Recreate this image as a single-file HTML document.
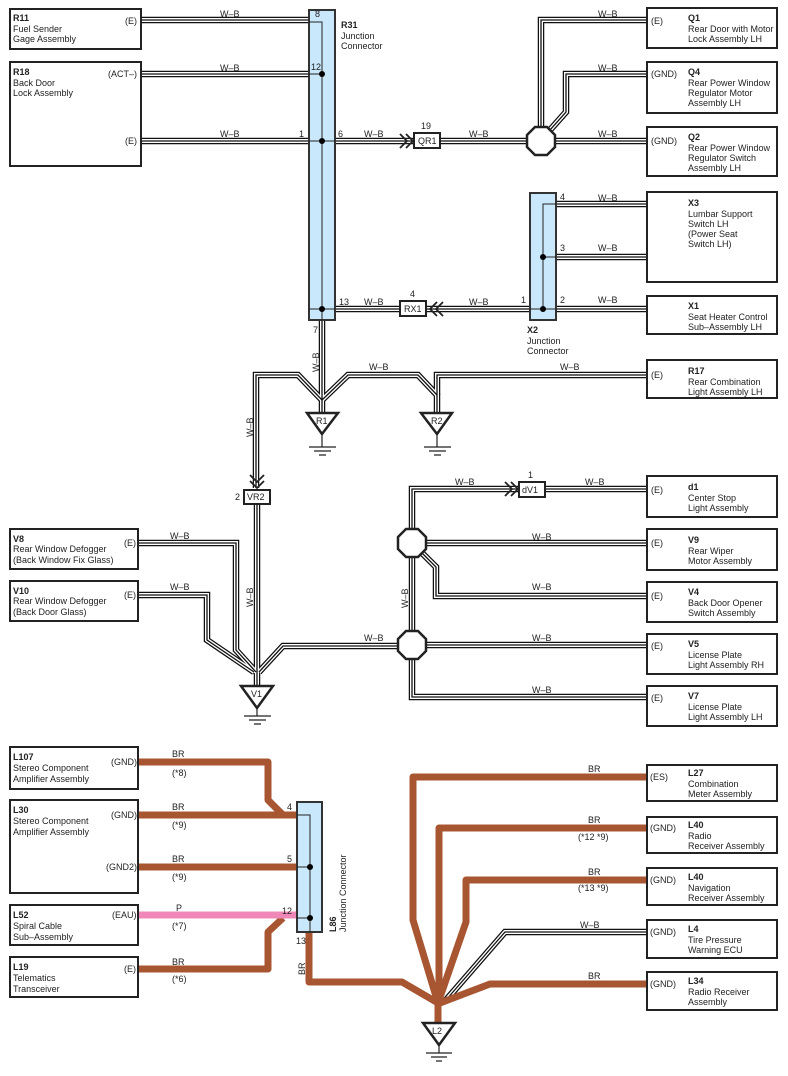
<!DOCTYPE html>
<html><head><meta charset="utf-8"><style>
html,body{margin:0;padding:0;background:#fff}
svg{display:block}
text{font-family:"Liberation Sans",sans-serif;font-size:9px;fill:#222}
.b{font-weight:bold}
.box{fill:#fff;stroke:#222;stroke-width:2}
.jc{fill:#c9e8fb;stroke:#333;stroke-width:2}
.in{fill:none;stroke:#222;stroke-width:1}
.oct{fill:#fff;stroke:#222;stroke-width:2.5}
.tri{fill:#fff;stroke:#222;stroke-width:2.5}
.gnd{stroke:#222;stroke-width:1.2}
.cb{fill:#fff;stroke:#222;stroke-width:2}
.arr{fill:none;stroke:#222;stroke-width:1.8}
</style></head><body>
<svg width="788" height="1076" viewBox="0 0 788 1076" xmlns="http://www.w3.org/2000/svg">
<defs>
<g id="wb" fill="none" stroke-linejoin="miter">
<path d="M138 20H309"/>
<path d="M138 74H309"/>
<path d="M138 141H309"/>
<path d="M335 141H414"/>
<path d="M440 141H647"/>
<path d="M541 127V20H647"/>
<path d="M550 130L566 112V74H647"/>
<path d="M556 204H647"/>
<path d="M556 257H647"/>
<path d="M556 309H647"/>
<path d="M335 309H400"/>
<path d="M426 309H530"/>
<path d="M322 320V413"/>
<path d="M322 400L298 375H256V488"/>
<path d="M322 400L348 375H418L437 395V413"/>
<path d="M437 395V375H647"/>
<path d="M257 503V686"/>
<path d="M138 543H236V650L256 672"/>
<path d="M138 595H207V640L254 672"/>
<path d="M259 672L283 646H398"/>
<path d="M412 557V631"/>
<path d="M412 529V489H520"/>
<path d="M544 489H647"/>
<path d="M426 543H647"/>
<path d="M422 553L436 567V596H647"/>
<path d="M426 645H647"/>
<path d="M412 659V697H647"/>
<path d="M647 932H505L446 1000"/>
</g>
</defs>
<use href="#wb" stroke="#111" stroke-width="6.5"/>
<use href="#wb" stroke="#fff" stroke-width="4"/>
<use href="#wb" stroke="#111" stroke-width="1.3"/>

<!-- brown wires -->
<g fill="none" stroke="#a85632" stroke-width="7" stroke-linejoin="round">
<path d="M138 762H268V800L283 815H297"/>
<path d="M138 815H297"/>
<path d="M138 867H297"/>
<path d="M138 969H268V932L283 918"/>
<path d="M309 932V982H402L438 1003V1023"/>
<path d="M647 777H413V920L438 1003"/>
<path d="M647 828H439V1003"/>
<path d="M647 880H466V922L438 1003"/>
<path d="M647 984H490L440 1003"/>
</g>
<path d="M138 915H297" stroke="#ef88b8" stroke-width="7"/>

<!-- junction connectors -->
<rect class="jc" x="309" y="10" width="26" height="310"/>
<path class="in" d="M309 22H322V320M309 74H322M309 141H335M309 309H335"/>
<circle cx="322" cy="74" r="3"/><circle cx="322" cy="141" r="3"/><circle cx="322" cy="309" r="3"/>
<text x="315" y="17">8</text><text x="311" y="70">12</text><text x="299" y="137">1</text><text x="338" y="137">6</text>
<text x="339" y="305">13</text><text x="313" y="333">7</text>
<text class="b" x="341" y="28">R31</text><text x="341" y="39">Junction</text><text x="341" y="49">Connector</text>

<rect class="jc" x="530" y="193" width="26" height="127"/>
<path class="in" d="M556 204H543V309M543 257H556M530 309H556"/>
<circle cx="543" cy="257" r="3"/><circle cx="543" cy="309" r="3"/>
<text x="560" y="200">4</text><text x="560" y="251">3</text><text x="560" y="303">2</text><text x="521" y="303">1</text>
<text class="b" x="527" y="333">X2</text><text x="527" y="344">Junction</text><text x="527" y="354">Connector</text>

<rect class="jc" x="297" y="802" width="25" height="130"/>
<path class="in" d="M297 815H310V932M297 867H310M297 918H310"/>
<circle cx="310" cy="867" r="3"/><circle cx="310" cy="918" r="3"/>
<text x="287" y="810">4</text><text x="287" y="862">5</text><text x="282" y="914">12</text><text x="296" y="944">13</text>
<text class="b" transform="translate(336,932) rotate(-90)">L86</text>
<text transform="translate(346,932) rotate(-90)">Junction Connector</text>

<!-- connector boxes with arrows -->
<rect class="cb" x="414" y="133" width="26" height="15"/><text x="418" y="144">QR1</text><text x="421" y="129">19</text>
<path class="arr" d="M400 134l7 7-7 7M406 134l7 7-7 7"/>
<rect class="cb" x="400" y="301" width="26" height="15"/><text x="404" y="312">RX1</text><text x="410" y="297">4</text>
<path class="arr" d="M437 302l-7 7 7 7M443 302l-7 7 7 7"/>
<rect class="cb" x="244" y="490" width="26" height="14"/><text x="247" y="500">VR2</text><text x="235" y="500">2</text>
<path class="arr" d="M250 475l7 7 7-7M250 481l7 7 7-7"/>
<rect class="cb" x="519" y="482" width="26" height="15"/><text x="522" y="493">dV1</text><text x="528" y="478">1</text>
<path class="arr" d="M505 482l7 7-7 7M511 482l7 7-7 7"/>

<!-- octagons -->
<polygon class="oct" points="535,127 547,127 555,135 555,147 547,155 535,155 527,147 527,135"/>
<polygon class="oct" points="406,529 418,529 426,537 426,549 418,557 406,557 398,549 398,537"/>
<polygon class="oct" points="406,631 418,631 426,639 426,651 418,659 406,659 398,651 398,639"/>

<!-- grounds -->
<g>
<polygon class="tri" points="307,413 338,413 322,434"/><text x="316" y="424">R1</text>
<path class="gnd" d="M322 434V447M309 447H336M314 451H331M319 455H326"/>
<polygon class="tri" points="421,413 452,413 437,434"/><text x="431" y="424">R2</text>
<path class="gnd" d="M437 434V447M424 447H451M429 451H446M434 455H441"/>
<polygon class="tri" points="241,686 273,686 257,708"/><text x="251" y="697">V1</text>
<path class="gnd" d="M257 708V716M244 716H271M249 720H266M254 724H261"/>
<polygon class="tri" points="423,1023 455,1023 439,1045"/><text x="432" y="1034">L2</text>
<path class="gnd" d="M439 1045V1053M426 1053H452M431 1057H447M436 1061H442"/>
</g>

<!-- wire labels -->
<g>
<text x="220" y="17">W–B</text><text x="220" y="71">W–B</text><text x="220" y="137">W–B</text>
<text x="364" y="137">W–B</text><text x="469" y="137">W–B</text>
<text x="598" y="17">W–B</text><text x="598" y="71">W–B</text><text x="598" y="137">W–B</text>
<text x="598" y="201">W–B</text><text x="598" y="251">W–B</text><text x="598" y="303">W–B</text>
<text x="364" y="305">W–B</text><text x="469" y="305">W–B</text>
<text x="560" y="370">W–B</text><text x="369" y="370">W–B</text>
<text x="455" y="485">W–B</text><text x="585" y="485">W–B</text>
<text x="532" y="540">W–B</text><text x="532" y="590">W–B</text><text x="532" y="641">W–B</text><text x="532" y="693">W–B</text>
<text x="364" y="641">W–B</text>
<text x="170" y="539">W–B</text><text x="170" y="590">W–B</text>
<text x="580" y="928">W–B</text>
<text transform="translate(319,372) rotate(-90)">W–B</text>
<text transform="translate(253,437) rotate(-90)">W–B</text>
<text transform="translate(253,607) rotate(-90)">W–B</text>
<text transform="translate(408,608) rotate(-90)">W–B</text>
<text x="172" y="757">BR</text><text x="172" y="776">(*8)</text>
<text x="172" y="810">BR</text><text x="172" y="828">(*9)</text>
<text x="172" y="862">BR</text><text x="172" y="880">(*9)</text>
<text x="176" y="911">P</text><text x="172" y="929">(*7)</text>
<text x="172" y="965">BR</text><text x="172" y="982">(*6)</text>
<text transform="translate(305,975) rotate(-90)">BR</text>
<text x="588" y="772">BR</text>
<text x="588" y="823">BR</text><text x="578" y="840">(*12 *9)</text>
<text x="588" y="875">BR</text><text x="578" y="891">(*13 *9)</text>
<text x="588" y="979">BR</text>
</g>

<!-- left boxes -->
<rect class="box" x="10" y="9" width="131" height="40"/>
<text class="b" x="13" y="21">R11</text><text x="13" y="32">Fuel Sender</text><text x="13" y="42">Gage Assembly</text><text x="125" y="24">(E)</text>
<rect class="box" x="10" y="62" width="131" height="104"/>
<text class="b" x="13" y="75">R18</text><text x="13" y="86">Back Door</text><text x="13" y="96">Lock Assembly</text><text x="108" y="77">(ACT–)</text><text x="125" y="144">(E)</text>
<rect class="box" x="10" y="529" width="128" height="40"/>
<text class="b" x="13" y="542">V8</text><text x="13" y="552">Rear Window Defogger</text><text x="13" y="563">(Back Window Fix Glass)</text><text x="124" y="546">(E)</text>
<rect class="box" x="10" y="581" width="128" height="40"/>
<text class="b" x="13" y="594">V10</text><text x="13" y="604">Rear Window Defogger</text><text x="13" y="615">(Back Door Glass)</text><text x="124" y="598">(E)</text>
<rect class="box" x="10" y="747" width="128" height="42"/>
<text class="b" x="13" y="760">L107</text><text x="13" y="771">Stereo Component</text><text x="13" y="782">Amplifier Assembly</text><text x="111" y="765">(GND)</text>
<rect class="box" x="10" y="800" width="128" height="93"/>
<text class="b" x="13" y="813">L30</text><text x="13" y="824">Stereo Component</text><text x="13" y="835">Amplifier Assembly</text><text x="111" y="818">(GND)</text><text x="106" y="870">(GND2)</text>
<rect class="box" x="10" y="905" width="128" height="40"/>
<text class="b" x="13" y="918">L52</text><text x="13" y="929">Spiral Cable</text><text x="13" y="940">Sub–Assembly</text><text x="112" y="918">(EAU)</text>
<rect class="box" x="10" y="957" width="128" height="40"/>
<text class="b" x="13" y="970">L19</text><text x="13" y="981">Telematics</text><text x="13" y="992">Transceiver</text><text x="124" y="972">(E)</text>

<!-- right boxes -->
<rect class="box" x="647" y="8" width="130" height="40"/>
<text x="651" y="24">(E)</text><text class="b" x="688" y="21">Q1</text><text x="688" y="32">Rear Door with Motor</text><text x="688" y="42">Lock Assembly LH</text>
<rect class="box" x="647" y="62" width="130" height="51"/>
<text x="651" y="77">(GND)</text><text class="b" x="688" y="75">Q4</text><text x="688" y="86">Rear Power Window</text><text x="688" y="96">Regulator Motor</text><text x="688" y="106">Assembly LH</text>
<rect class="box" x="647" y="127" width="130" height="49"/>
<text x="651" y="144">(GND)</text><text class="b" x="688" y="140">Q2</text><text x="688" y="151">Rear Power Window</text><text x="688" y="161">Regulator Switch</text><text x="688" y="171">Assembly LH</text>
<rect class="box" x="647" y="192" width="130" height="90"/>
<text class="b" x="688" y="206">X3</text><text x="688" y="217">Lumbar Support</text><text x="688" y="227">Switch LH</text><text x="688" y="237">(Power Seat</text><text x="688" y="247"> Switch LH)</text>
<rect class="box" x="647" y="296" width="130" height="38"/>
<text class="b" x="688" y="309">X1</text><text x="688" y="320">Seat Heater Control</text><text x="688" y="330">Sub–Assembly LH</text>
<rect class="box" x="647" y="360" width="130" height="38"/>
<text x="651" y="378">(E)</text><text class="b" x="688" y="374">R17</text><text x="688" y="385">Rear Combination</text><text x="688" y="395">Light Assembly LH</text>
<rect class="box" x="647" y="476" width="130" height="41"/>
<text x="651" y="493">(E)</text><text class="b" x="688" y="490">d1</text><text x="688" y="501">Center Stop</text><text x="688" y="511">Light Assembly</text>
<rect class="box" x="647" y="529" width="130" height="41"/>
<text x="651" y="546">(E)</text><text class="b" x="688" y="543">V9</text><text x="688" y="554">Rear Wiper</text><text x="688" y="564">Motor Assembly</text>
<rect class="box" x="647" y="582" width="130" height="40"/>
<text x="651" y="599">(E)</text><text class="b" x="688" y="595">V4</text><text x="688" y="606">Back Door Opener</text><text x="688" y="616">Switch Assembly</text>
<rect class="box" x="647" y="634" width="130" height="40"/>
<text x="651" y="649">(E)</text><text class="b" x="688" y="647">V5</text><text x="688" y="658">License Plate</text><text x="688" y="668">Light Assembly RH</text>
<rect class="box" x="647" y="686" width="130" height="40"/>
<text x="651" y="701">(E)</text><text class="b" x="688" y="699">V7</text><text x="688" y="710">License Plate</text><text x="688" y="720">Light Assembly LH</text>
<rect class="box" x="647" y="765" width="130" height="36"/>
<text x="650" y="780">(ES)</text><text class="b" x="688" y="776">L27</text><text x="688" y="787">Combination</text><text x="688" y="797">Meter Assembly</text>
<rect class="box" x="647" y="817" width="130" height="36"/>
<text x="650" y="831">(GND)</text><text class="b" x="688" y="828">L40</text><text x="688" y="839">Radio</text><text x="688" y="849">Receiver Assembly</text>
<rect class="box" x="647" y="868" width="130" height="37"/>
<text x="650" y="883">(GND)</text><text class="b" x="688" y="880">L40</text><text x="688" y="891">Navigation</text><text x="688" y="901">Receiver Assembly</text>
<rect class="box" x="647" y="920" width="130" height="38"/>
<text x="650" y="935">(GND)</text><text class="b" x="688" y="932">L4</text><text x="688" y="943">Tire Pressure</text><text x="688" y="953">Warning ECU</text>
<rect class="box" x="647" y="972" width="130" height="38"/>
<text x="650" y="987">(GND)</text><text class="b" x="688" y="984">L34</text><text x="688" y="995">Radio Receiver</text><text x="688" y="1005">Assembly</text>
</svg>
</body></html>
